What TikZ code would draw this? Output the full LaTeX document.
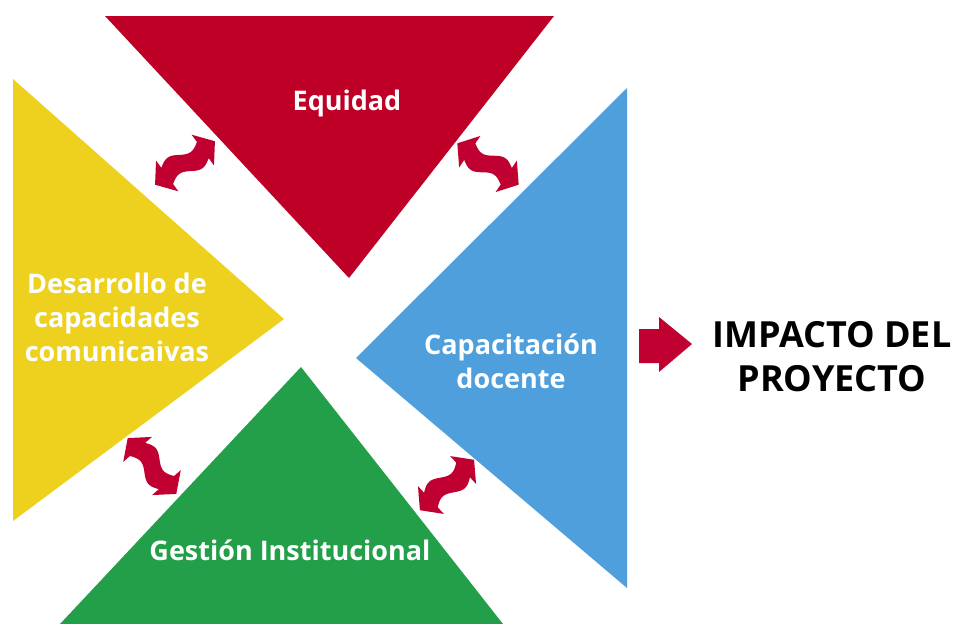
\documentclass[tikz,border=0pt]{standalone}
\usepackage{fontspec}
\setmainfont{Open Sans}
\usetikzlibrary{calc}
\definecolor{cred}{HTML}{BE0027}
\definecolor{cyellow}{HTML}{EDD11E}
\definecolor{cblue}{HTML}{4F9FDD}
\definecolor{cgreen}{HTML}{239F4A}
\definecolor{ared}{HTML}{C00030}
\newcommand\sarr[4]{%
  \begin{scope}[shift={(#1,#2)},rotate=#3]
    \fill[ared] (-37,0) -- (-22,19)
      -- plot[domain=-22:22,samples=25] (\x,{#4*4.5*sin(180*\x/22)+10})
      -- (22,19) -- (37,0) -- (22,-19)
      -- plot[domain=22:-22,samples=25] (\x,{#4*4.5*sin(180*\x/22)-10})
      -- (-22,-19) -- cycle;
  \end{scope}}
\begin{document}
\begin{tikzpicture}[x=1pt,y=-1pt,
  lbl/.style={text=white,font=\fontsize{27}{34}\selectfont\bfseries,align=center,inner sep=0pt},
  big/.style={text=black,font=\fontsize{36}{44}\selectfont\bfseries,align=center,inner sep=0pt}]
\useasboundingbox (0,0) rectangle (954,624);
\fill[white] (0,0) rectangle (954,624);
% triangles
\fill[cred] (105,16) -- (554,16) -- (349,278) -- cycle;
\fill[cyellow] (13,79) -- (13,521) -- (284,319) -- cycle;
\fill[cblue] (627,88) -- (627,588) -- (356,358) -- cycle;
\fill[cgreen] (301,367) -- (503,624) -- (60,624) -- cycle;
% curved double arrows
\sarr{185}{163}{36}{1}
\sarr{488}{164}{-34}{-1}
\sarr{152}{466}{-49}{1}
\sarr{447}{485}{43}{1}
% big arrow
\fill[ared] (639,329) -- (659,329) -- (659,317) -- (692,344) -- (659,372) -- (659,363) -- (639,363) -- cycle;
% labels
\node[lbl] (eq) at (347,103) {Equidad};
\node[lbl] (des) at (117,317) {Desarrollo de\\capacidades\\comunicaivas};
\node[lbl] (cap) at (511,361) {Capacitación\\docente};
\node[lbl] (ges) at (290,550) {Gestión Institucional};
\node[big] (imp) at (832,357) {IMPACTO DEL\\PROYECTO};
\end{tikzpicture}
\end{document}
